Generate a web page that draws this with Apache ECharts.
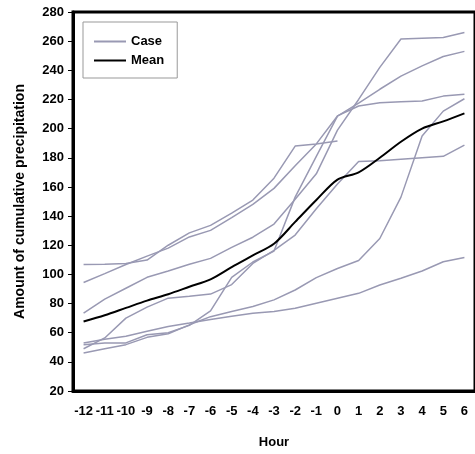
<!DOCTYPE html>
<html>
<head>
<meta charset="utf-8">
<script src="https://cdn.jsdelivr.net/npm/echarts@6/dist/echarts.min.js"></script>
<style>
html,body{margin:0;padding:0;background:#fff;}
#chart{width:475px;height:454px;}
</style>
</head>
<body>
<div id="chart"></div>
<script>
var hours = ['-12','-11','-10','-9','-8','-7','-6','-5','-4','-3','-2','-1','0','1','2','3','4','5','6'];

var caseA = [106.8, 107, 107.5, 109.8, 120, 128.5, 133.6, 142, 151, 166, 188, 189.5, 191.5, null, null, null, null, null, null];
var caseB = [94.4, 100.5, 106.8, 112.5, 118, 125.7, 130.2, 139, 148, 159, 174.5, 189.5, 208.7, 215.5, 217.8, 218.5, 219, 222.3, 223.5];
var caseC = [73.4, 83, 90.5, 98, 102.3, 107, 111, 118.5, 125.5, 134.5, 151.5, 169, 199, 220, 242, 261.5, 262, 262.5, 266];
var caseD = [49, 56.4, 70, 77.5, 83.7, 85, 86.5, 93, 107.5, 116.5, 127, 145, 162, 177.5, 178, 179, 180, 181, 188.7];
var caseE = [51.8, 53, 53, 58.6, 60, 65, 75, 98, 108.5, 116, 153, 181, 208.5, 217.5, 227, 236, 243, 249.5, 253];
var caseF = [46, 49, 51.8, 56.8, 59.3, 65.4, 71, 74.6, 78, 82.5, 89.3, 97.8, 104, 109.5, 124.6, 153, 195, 212, 220.5];
var caseG = [53, 55.5, 57.5, 61, 64.3, 66.6, 69, 71.2, 73.4, 74.6, 76.8, 80.2, 83.6, 87, 92.7, 97.3, 102.3, 108.7, 111.6];
var meanValues = [67.7, 72, 77, 82, 86.4, 91.5, 96.6, 105, 113, 121, 136, 151, 165, 170, 180, 191, 200, 205, 210.5];

var yTicks = {min: 20, max: 280, interval: 20};

var caseList = [caseA, caseB, caseC, caseD, caseE, caseF, caseG];
var caseColor = '#9999b3';
var font = 'Liberation Sans, Arial, sans-serif';

var series = caseList.map(function (vals) {
  return {
    name: 'Case', type: 'line', data: vals, symbol: 'none', showSymbol: false, smooth: false,
    lineStyle: {color: caseColor, width: 1.5}, itemStyle: {color: caseColor},
    z: 2
  };
});
series.push({
  name: 'Mean', type: 'line', data: meanValues, symbol: 'none', showSymbol: false, smooth: 0.3,
  lineStyle: {color: '#000', width: 2}, itemStyle: {color: '#000'}, z: 3
});

var chart = echarts.init(document.getElementById('chart'), null, {renderer: 'canvas'});
chart.setOption({
  animation: false,
  backgroundColor: '#fff',
  grid: {left: 73, top: 12, right: -7, bottom: 61, show: true, borderColor: '#000', borderWidth: 3},
  legend: {
    data: ['Case', 'Mean'], orient: 'vertical', left: 83, top: 22,
    itemWidth: 32, itemHeight: 14, itemGap: 6,
    padding: [13, 13, 11, 10], borderColor: '#999', borderWidth: 1,
    itemStyle: {opacity: 0},
    textStyle: {fontFamily: font, fontWeight: 'bold', fontSize: 13, color: '#000'}
  },
  xAxis: {
    type: 'category', data: hours, boundaryGap: true,
    name: 'Hour', nameLocation: 'middle', nameGap: 45,
    nameTextStyle: {fontFamily: font, fontWeight: 'bold', fontSize: 13, color: '#000'},
    axisLine: {lineStyle: {color: '#000', width: 3}},
    axisTick: {alignWithLabel: true, length: 5, lineStyle: {color: '#000', width: 1}},
    axisLabel: {interval: 0, margin: 14, fontFamily: font, fontWeight: 'bold', fontSize: 13, color: '#000'},
    splitLine: {show: false}
  },
  yAxis: {
    type: 'value', min: yTicks.min, max: yTicks.max, interval: yTicks.interval,
    name: 'Amount of cumulative precipitation', nameLocation: 'middle', nameGap: 46,
    nameTextStyle: {fontFamily: font, fontWeight: 'bold', fontSize: 14, color: '#000'},
    axisLine: {show: true, lineStyle: {color: '#000', width: 3}},
    axisTick: {show: true, length: 5, lineStyle: {color: '#000', width: 1}},
    axisLabel: {margin: 9, fontFamily: font, fontWeight: 'bold', fontSize: 13, color: '#000'},
    splitLine: {show: false}
  },
  series: series
});
</script>
</body>
</html>
